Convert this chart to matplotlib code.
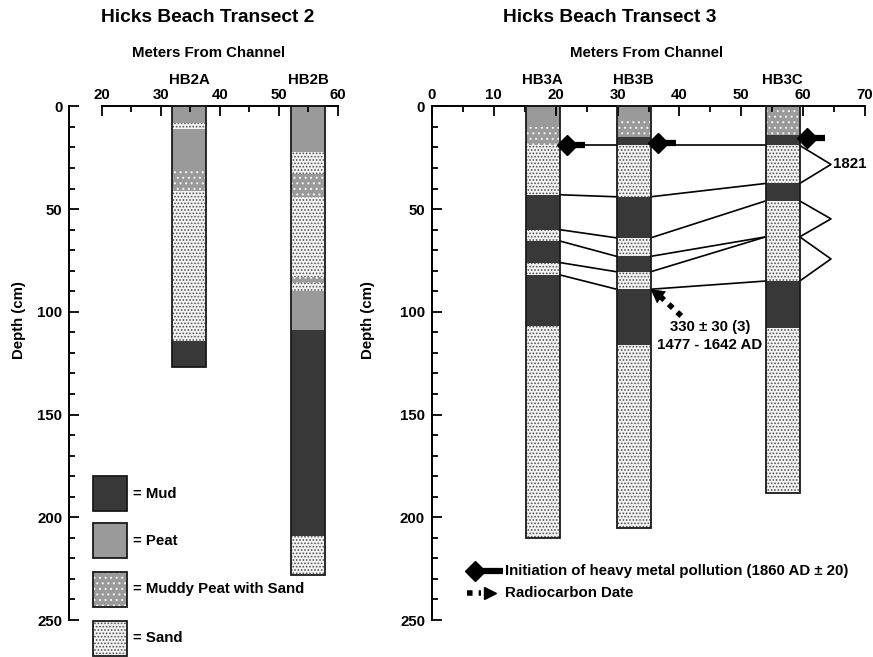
import matplotlib
matplotlib.use("Agg")
import matplotlib.pyplot as plt
from matplotlib.patches import Rectangle
from matplotlib.ticker import MultipleLocator

plt.rcParams['font.family'] = ['Liberation Sans', 'DejaVu Sans']
plt.rcParams['font.weight'] = 'bold'
plt.rcParams['hatch.linewidth'] = 0.8

W, H = 873, 657

MUD = '#383838'
PEAT = '#9a9a9a'

# Transect 2 cores: layer boundaries (cm) and lithology between them
t2_names = ['HB2A', 'HB2B']
t2_pos = [34.8, 55.0]
hb2a_depths = [0, 8, 11, 30, 41, 114, 127]
hb2a_units = ['peat', 'sand', 'peat', 'mpeat', 'sand', 'mud']
hb2b_depths = [0, 22, 33, 44, 83, 86, 90, 109, 209, 228]
hb2b_units = ['peat', 'sand', 'mpeat', 'sand', 'mpeat', 'sand', 'peat', 'mud', 'sand']

# Transect 3 cores
t3_names = ['HB3A', 'HB3B', 'HB3C']
t3_pos = [17.9, 32.6, 56.7]
hb3a_depths = [0, 10, 19, 43, 60, 65.5, 76, 82, 107, 210]
hb3a_units = ['peat', 'mpeat', 'sand', 'mud', 'sand', 'mud', 'sand', 'mud', 'sand']
hb3b_depths = [0, 7, 15, 19, 44, 64, 73, 80.5, 89, 116, 205]
hb3b_units = ['peat', 'mpeat', 'mud', 'sand', 'mud', 'sand', 'mud', 'sand', 'mud', 'sand']
hb3c_depths = [0, 14, 19, 37.5, 46, 85, 108, 188]
hb3c_units = ['mpeat', 'mud', 'sand', 'mud', 'sand', 'mud', 'sand']

# correlated horizons across transect 3 (depth at A, B, C)
tie_a = [19, 43, 60, 65.5, 76, 82]
tie_b = [19, 44, 64, 73, 80.5, 89]
tie_c = [19, 37.5, 46, 63.5, 63.5, 85]

# brackets on the right of HB3C
bracket_top = [19, 46, 63.5]
bracket_bot = [37.5, 63.5, 85]
bracket_label = ['1821', '', '']

# heavy metal pollution onset in each core
pollution_depth = [19, 18, 15.5]

# radiocarbon sample
c14_depth = 89
c14_text = ['330 ± 30 (3)', '1477 - 1642 AD']

legend_units = ['mud', 'peat', 'mpeat', 'sand']
legend_labels = ['= Mud', '= Peat', '= Muddy Peat with Sand', '= Sand']
legend_tops = [180, 203, 226.5, 250.5]


def px_axes(x0, y0, x1, y1):
    return [x0 / W, 1 - y1 / H, (x1 - x0) / W, (y1 - y0) / H]


def draw_layer(ax, x, top, bot, unit, w, clip=True):
    xy = (x - w / 2, top)
    h = bot - top
    if unit == 'mud':
        ax.add_patch(Rectangle(xy, w, h, facecolor=MUD, edgecolor='none', clip_on=clip))
    elif unit == 'peat':
        ax.add_patch(Rectangle(xy, w, h, facecolor=PEAT, edgecolor='none', clip_on=clip))
    elif unit == 'mpeat':
        ax.add_patch(Rectangle(xy, w, h, facecolor=PEAT, edgecolor='none', clip_on=clip))
        ax.add_patch(Rectangle(xy, w, h, facecolor='none', edgecolor='#f0f0f0',
                               hatch='...', lw=0, clip_on=clip))
    else:
        ax.add_patch(Rectangle(xy, w, h, facecolor='#f4f4f4', edgecolor='#555555',
                               hatch='.....', lw=0, clip_on=clip))


def draw_core(ax, x, depths, units, w):
    for top, bot, u in zip(depths[:-1], depths[1:], units):
        draw_layer(ax, x, top, bot, u, w)
    ax.add_patch(Rectangle((x - w / 2, 0), w, depths[-1], facecolor='none',
                           edgecolor='#1a1a1a', lw=1.3, clip_on=False, zorder=3))


def style_axes(ax, major, minor):
    ax.set_ylim(250, 0)
    ax.spines['right'].set_visible(False)
    ax.spines['bottom'].set_visible(False)
    for s in ('top', 'left'):
        ax.spines[s].set_linewidth(1.4)
    ax.xaxis.tick_top()
    ax.xaxis.set_major_locator(MultipleLocator(major))
    ax.xaxis.set_minor_locator(MultipleLocator(minor))
    ax.yaxis.set_major_locator(MultipleLocator(50))
    ax.yaxis.set_minor_locator(MultipleLocator(10))
    ax.tick_params(which='both', direction='in', width=1.3, labelsize=10.8)
    ax.tick_params(which='major', length=7)
    ax.tick_params(which='minor', length=4.5)
    ax.tick_params(axis='x', pad=3)
    ax.tick_params(axis='y', pad=5)


fig = plt.figure(figsize=(W / 100, H / 100), dpi=100)

# ---- Transect 2 ----
ax1 = fig.add_axes(px_axes(101.7, 106.4, 338, 620))
ax1.set_xlim(20, 60)
style_axes(ax1, 10, 5)
ax1.spines['left'].set_position(('outward', 32.5 * 72 / 100))
w1 = 34 / (236.3 / 40)

draw_core(ax1, t2_pos[0], hb2a_depths, hb2a_units, w1)
draw_core(ax1, t2_pos[1], hb2b_depths, hb2b_units, w1)
for name, x in zip(t2_names, t2_pos):
    ax1.annotate(name, (x, 0), xytext=(0, 26), textcoords='offset pixels',
                 ha='center', va='center', fontsize=10.8)

leg_x = 21.4
for u, lab, top in zip(legend_units, legend_labels, legend_tops):
    draw_layer(ax1, leg_x, top, top + 17, u, w1, clip=False)
    ax1.add_patch(Rectangle((leg_x - w1 / 2, top), w1, 17, facecolor='none',
                            edgecolor='#1a1a1a', lw=1.3, clip_on=False, zorder=3))
    ax1.text(leg_x + w1 / 2 + 1.1, top + 8.5, lab, ha='left', va='center', fontsize=10.8)

fig.text(208 / W, 1 - 18 / H, 'Hicks Beach Transect 2', ha='center', va='center', fontsize=13.8)
fig.text(209 / W, 1 - 53 / H, 'Meters From Channel', ha='center', va='center', fontsize=10.8)
fig.text(19 / W, 1 - 320 / H, 'Depth (cm)', rotation=90, ha='center', va='center', fontsize=10.8)

# ---- Transect 3 ----
ax2 = fig.add_axes(px_axes(432, 106.4, 865, 620))
ax2.set_xlim(0, 70)
style_axes(ax2, 10, 5)
w2 = 34 / (433 / 70)

cores3 = [(hb3a_depths, hb3a_units), (hb3b_depths, hb3b_units), (hb3c_depths, hb3c_units)]
for x, (d, u) in zip(t3_pos, cores3):
    draw_core(ax2, x, d, u, w2)
for name, x in zip(t3_names, t3_pos):
    ax2.annotate(name, (x, 0), xytext=(0, 26), textcoords='offset pixels',
                 ha='center', va='center', fontsize=10.8)

# correlation lines between cores
ra, la = t3_pos[0] + w2 / 2, t3_pos[1] - w2 / 2
rb, lc = t3_pos[1] + w2 / 2, t3_pos[2] - w2 / 2
for a, b, c in zip(tie_a, tie_b, tie_c):
    ax2.plot([ra, la], [a, b], color='black', lw=1.2)
    ax2.plot([rb, lc], [b, c], color='black', lw=1.2)

# brackets to the right of HB3C
rc = t3_pos[2] + w2 / 2
vx = 64.5
for t, b, lab in zip(bracket_top, bracket_bot, bracket_label):
    ax2.plot([rc, vx, rc], [t, (t + b) / 2, b], color='black', lw=1.2, clip_on=False)
    if lab:
        ax2.text(vx + 0.4, (t + b) / 2, lab, ha='left', va='center', fontsize=10.8)


def pollution_marker(ax, x, d, bar):
    ax.plot([x, x + bar], [d, d], color='black', lw=4.5, solid_capstyle='butt', zorder=5)
    ax.plot(x, d, marker='D', ms=10.5, color='black', zorder=6)


for x, d in zip(t3_pos, pollution_depth):
    pollution_marker(ax2, x + w2 / 2 + 1.2, d, 2.9)

# radiocarbon date arrow
tip = (t3_pos[1] + w2 / 2, c14_depth)
ax2.plot([40.3, tip[0] + 1.6], [102, c14_depth + 3.6], color='black', lw=4,
         ls=(0, (1, 1.1)), dash_capstyle='butt')
ax2.annotate('', xy=tip, xytext=(tip[0] + 2.0, c14_depth + 4.5),
             arrowprops=dict(arrowstyle='-|>,head_length=0.9,head_width=0.5',
                             color='black', lw=0.5, shrinkA=0, shrinkB=0))
ax2.text(44.9, 107.3, c14_text[0], ha='center', va='center', fontsize=10.8)
ax2.text(44.9, 116.1, c14_text[1], ha='center', va='center', fontsize=10.8)

# key for symbols
pollution_marker(ax2, 6.9, 226.3, 4.5)
ax2.text(11.8, 226.3, 'Initiation of heavy metal pollution (1860 AD ± 20)',
         ha='left', va='center', fontsize=10.8)
ax2.plot([5.6, 8.0], [236.8, 236.8], color='black', lw=4, ls=(0, (1, 1.1)),
         dash_capstyle='butt')
ax2.plot(9.3, 236.8, marker='>', ms=8, color='black')
ax2.text(11.8, 236.8, 'Radiocarbon Date', ha='left', va='center', fontsize=10.8)

fig.text(610 / W, 1 - 18 / H, 'Hicks Beach Transect 3', ha='center', va='center', fontsize=13.8)
fig.text(646.5 / W, 1 - 53 / H, 'Meters From Channel', ha='center', va='center', fontsize=10.8)
fig.text(368 / W, 1 - 320 / H, 'Depth (cm)', rotation=90, ha='center', va='center', fontsize=10.8)

fig.savefig('out.png', dpi=100)
